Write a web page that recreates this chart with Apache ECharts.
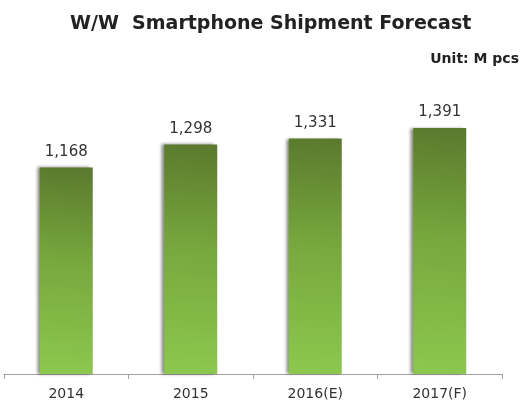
<!DOCTYPE html>
<html>
<head>
<meta charset="utf-8">
<script src="https://cdn.jsdelivr.net/npm/echarts@6/dist/echarts.min.js"></script>
<style>
html,body{margin:0;padding:0;background:#fff;}
#main{width:522px;height:403px;}
</style>
</head>
<body>
<div id="main"></div>
<script>
var years = ['2014', '2015', '2016(E)', '2017(F)'];
var shipments = [1168, 1298, 1331, 1391];

var chart = echarts.init(document.getElementById('main'));
var option = {
    animation: false,
    title: [
        {
            text: 'W/W  Smartphone Shipment Forecast',
            left: 65, top: 10,
            textStyle: {fontFamily: 'DejaVu Sans', fontSize: 19, fontWeight: 'bold', color: '#222'}
        },
        {
            text: 'Unit: M pcs',
            right: -2, top: 47,
            textStyle: {fontFamily: 'DejaVu Sans', fontSize: 14, fontWeight: 'bold', color: '#222'}
        }
    ],
    grid: {left: 4, right: 20, top: 91, bottom: 29},
    xAxis: {
        type: 'category',
        data: years,
        axisLine: {lineStyle: {color: '#a0a0a0', width: 1}},
        axisTick: {show: true, length: 5, lineStyle: {color: '#a0a0a0'}},
        axisLabel: {fontFamily: 'DejaVu Sans', fontSize: 14, color: '#333', margin: 13}
    },
    yAxis: {
        type: 'value', min: 0, max: 1600, show: false,
        splitLine: {show: false}
    },
    series: [{
        type: 'bar',
        data: shipments,
        barWidth: 53,
        itemStyle: {
            color: new echarts.graphic.LinearGradient(0.3, 0, 0, 1, [
                {offset: 0, color: '#5b7a2e'},
                {offset: 0.45, color: '#77a83d'},
                {offset: 1, color: '#8cc84e'}
            ]),
            shadowColor: 'rgba(0,0,0,0.45)',
            shadowBlur: 3,
            shadowOffsetX: -3,
            shadowOffsetY: 0
        },
        label: {
            show: true,
            position: 'top',
            distance: 8,
            fontFamily: 'DejaVu Sans',
            fontSize: 15,
            color: '#333',
            formatter: function (p) { return p.value.toLocaleString('en-US'); }
        }
    }]
};
chart.setOption(option);
</script>
</body>
</html>
